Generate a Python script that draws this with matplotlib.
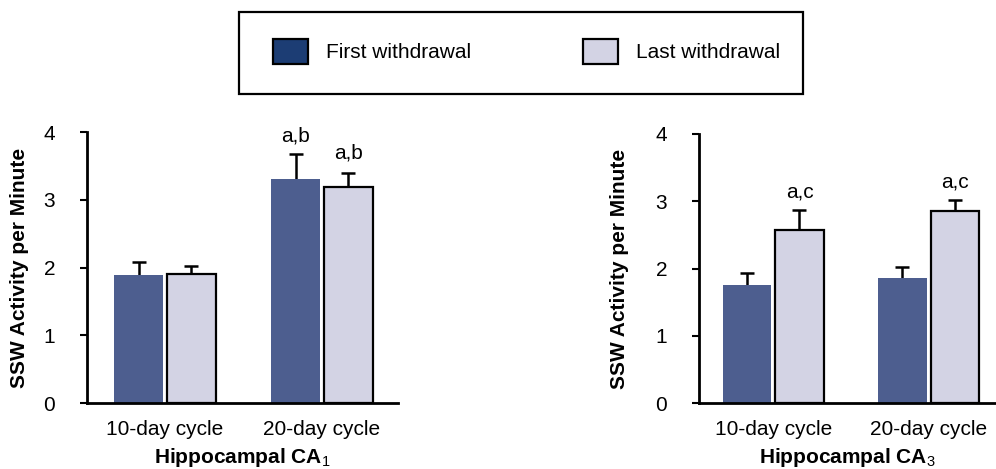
import matplotlib
matplotlib.use("Agg")
from matplotlib import pyplot as plt
from matplotlib.patches import Patch, Rectangle
import numpy as np

plt.rcParams['font.family'] = ['Liberation Sans', 'DejaVu Sans']
plt.rcParams['mathtext.fontset'] = 'custom'
plt.rcParams['mathtext.rm'] = 'Liberation Sans'

cycles = ['10-day cycle', '20-day cycle']
series = ['First withdrawal', 'Last withdrawal']

ca1_first = [1.89, 3.30]
ca1_first_err = [0.19, 0.37]
ca1_last = [1.90, 3.19]
ca1_last_err = [0.12, 0.21]
ca1_marks = ['a,b', 'a,b']  # on first and last bar of the 20-day group

ca3_first = [1.75, 1.86]
ca3_first_err = [0.18, 0.16]
ca3_last = [2.57, 2.85]
ca3_last_err = [0.30, 0.17]
ca3_marks = ['a,c', 'a,c']  # on last bars

dark = '#4d5e8f'
light = '#d3d3e4'
legend_dark = '#1c3d74'


def up_errbar(ax, x, y, err):
    eb = ax.errorbar(x, y, yerr=[np.zeros(len(y)), err], fmt='none', ecolor='black',
                     elinewidth=1.8, capsize=4.7, capthick=1.8, zorder=1)
    # hide the cap sitting on the bar top, keep only the upper one
    for cap in eb[1]:
        if np.allclose(cap.get_ydata(), y):
            cap.set_visible(False)


def draw_panel(ax, first, first_err, last, last_err, xlim, title):
    x = np.arange(len(cycles))
    off, w = 0.168, 0.31
    up_errbar(ax, x - off, first, first_err)
    up_errbar(ax, x + off, last, last_err)
    ax.bar(x - off, first, w, color=dark, zorder=2)
    ax.bar(x + off, last, w, color=light, edgecolor='black', linewidth=1.6, zorder=2)
    ax.set_ylim(0, 4)
    ax.set_xlim(*xlim)
    ax.set_yticks(range(5))
    ax.set_xticks(x)
    ax.set_xticklabels(cycles)
    for s in ['top', 'right']:
        ax.spines[s].set_visible(False)
    for s in ['left', 'bottom']:
        ax.spines[s].set_linewidth(2)
    ax.tick_params(axis='y', direction='out', length=5, width=1.5, pad=18, labelsize=15)
    ax.tick_params(axis='x', length=0, pad=12, labelsize=15)
    ax.set_ylabel('SSW Activity per Minute', fontsize=15, fontweight='bold')
    ax.set_xlabel(title, fontsize=15, fontweight='bold', labelpad=5)
    return x, off


fig = plt.figure(figsize=(9.96, 4.69), dpi=100)
ax1 = fig.add_axes([0.0873, 0.1407, 0.3122, 0.5778])
ax2 = fig.add_axes([0.7018, 0.1407, 0.2982, 0.5736])

x, off = draw_panel(ax1, ca1_first, ca1_first_err, ca1_last, ca1_last_err,
                    (-0.497, 1.484), 'Hippocampal CA$_{1}$')
ax1.annotate(ca1_marks[0], (x[1] - off, ca1_first[1] + ca1_first_err[1]),
             xytext=(0, 9), textcoords='offset points', ha='center', va='baseline', fontsize=15)
ax1.annotate(ca1_marks[1], (x[1] + off, ca1_last[1] + ca1_last_err[1]),
             xytext=(0, 10), textcoords='offset points', ha='center', va='baseline', fontsize=15)
ax1.yaxis.set_label_coords(-0.186, 0.5)

x, off = draw_panel(ax2, ca3_first, ca3_first_err, ca3_last, ca3_last_err,
                    (-0.48, 1.435), 'Hippocampal CA$_{3}$')
for i in range(len(cycles)):
    ax2.annotate(ca3_marks[i], (x[i] + off, ca3_last[i] + ca3_last_err[i]),
                 xytext=(0, 9), textcoords='offset points', ha='center', va='baseline', fontsize=15)
ax2.yaxis.set_label_coords(-0.236, 0.5)

# legend box
fig.patches.append(Rectangle((0.24, 0.7996), 0.5663, 0.1748, transform=fig.transFigure,
                             fill=False, edgecolor='black', linewidth=1.6))
handles = [Patch(facecolor=legend_dark, edgecolor='black', linewidth=1.6, label=series[0]),
           Patch(facecolor=light, edgecolor='black', linewidth=1.6, label=series[1])]
fig.legend(handles=handles, loc='center left', bbox_to_anchor=(0.2741, 0.8902), ncol=2,
           frameon=False, fontsize=15, borderpad=0, borderaxespad=0,
           handlelength=1.68, handleheight=1.5, handletextpad=0.84, columnspacing=5.4)

fig.savefig('out.png', dpi=100)
